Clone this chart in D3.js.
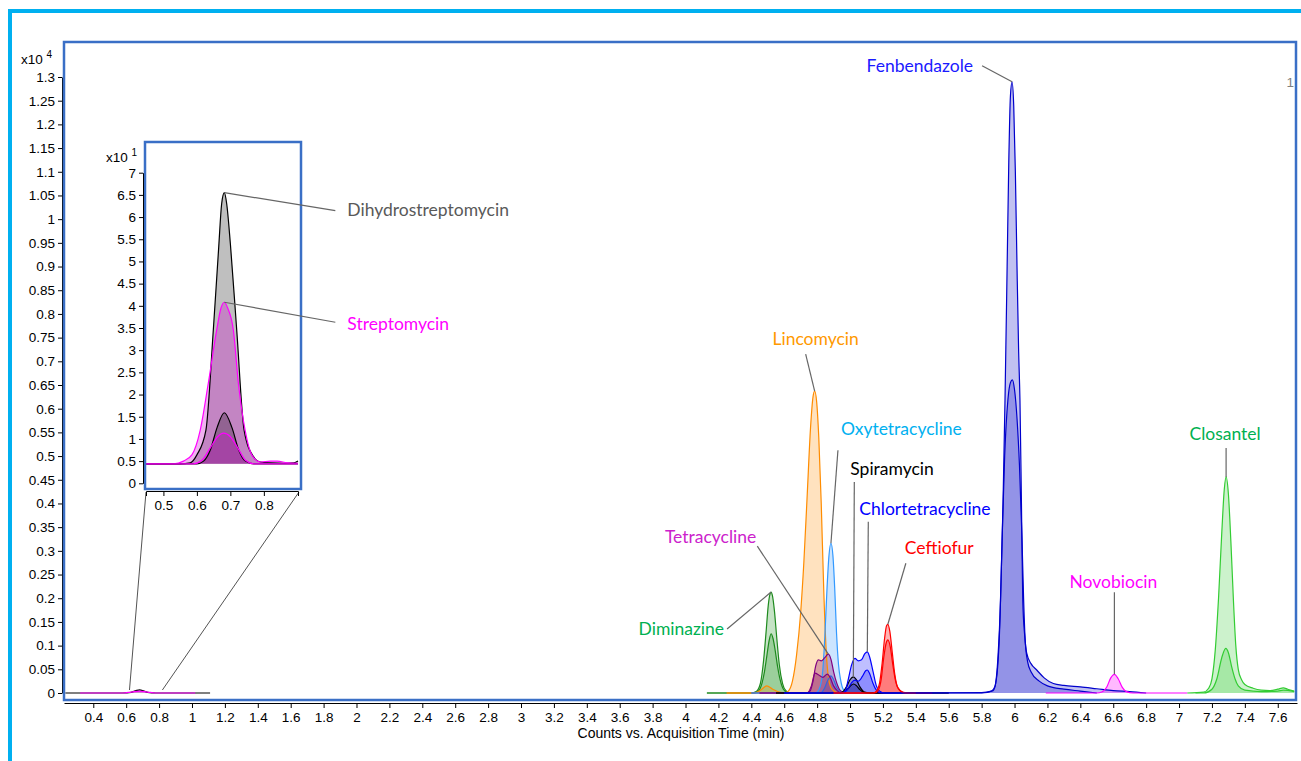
<!DOCTYPE html>
<html>
<head>
<meta charset="utf-8">
<script src="https://d3js.org/d3.v7.min.js"></script>
<style>
  body { margin: 0; background: #fff; }
  svg text { font-family: "Liberation Sans", Arial, sans-serif; }
  .tick text { font-size: 13.5px; fill: #000; }
  .lbl { font-family: Lato, "Open Sans", sans-serif; font-size: 17.5px; }
</style>
</head>
<body>
<svg width="1301" height="761"></svg>
<script>
  // axis ticks
  var xTicks = [0.4, 0.6, 0.8, 1, 1.2, 1.4, 1.6, 1.8, 2, 2.2, 2.4, 2.6, 2.8, 3, 3.2, 3.4, 3.6, 3.8, 4,
    4.2, 4.4, 4.6, 4.8, 5, 5.2, 5.4, 5.6, 5.8, 6, 6.2, 6.4, 6.6, 6.8, 7, 7.2, 7.4, 7.6];
  var yTicks = [0, 0.05, 0.1, 0.15, 0.2, 0.25, 0.3, 0.35, 0.4, 0.45, 0.5, 0.55, 0.6, 0.65, 0.7, 0.75,
    0.8, 0.85, 0.9, 0.95, 1, 1.05, 1.1, 1.15, 1.2, 1.25, 1.3];
  var insetXTicks = [0.5, 0.6, 0.7, 0.8];
  var insetYTicks = [0, 0.5, 1, 1.5, 2, 2.5, 3, 3.5, 4, 4.5, 5, 5.5, 6, 6.5, 7];

  // main chromatograms: [time (min), counts x10^4]
  var dihydroMain = [[0.23,0],[0.58,0],[0.63,0.0015],[0.66,0.005],[0.682,0.0065],[0.70,0.005],[0.73,0.0015],[0.78,0],[1.11,0]];
  var streptoMain = [[0.32,0],[0.58,0],[0.63,0.002],[0.682,0.004],[0.73,0.002],[0.78,0],[1.02,0]];
  var diminazineQuant = [[4.13,0],[4.40,0],[4.43,0.003],[4.455,0.02],[4.475,0.07],[4.49,0.13],[4.503,0.185],[4.513,0.208],[4.52,0.213],[4.528,0.206],[4.54,0.175],[4.555,0.115],[4.57,0.06],[4.59,0.02],[4.61,0.005],[4.64,0],[4.90,0]];
  var diminazineQual = [[4.13,0],[4.41,0],[4.44,0.003],[4.46,0.015],[4.48,0.045],[4.495,0.08],[4.508,0.11],[4.52,0.125],[4.532,0.115],[4.545,0.09],[4.56,0.055],[4.575,0.028],[4.595,0.008],[4.62,0.001],[4.90,0]];
  var lincomycinQuant = [[4.25,0],[4.60,0],[4.625,0.004],[4.65,0.025],[4.675,0.08],[4.70,0.17],[4.72,0.28],[4.74,0.42],[4.76,0.56],[4.775,0.625],[4.785,0.637],[4.797,0.615],[4.81,0.54],[4.825,0.4],[4.84,0.22],[4.855,0.09],[4.87,0.03],[4.89,0.008],[4.93,0],[5.10,0]];
  var lincomycinQual = [[4.25,0],[4.42,0],[4.46,0.007],[4.494,0.015],[4.53,0.008],[4.57,0.002],[4.62,0],[5.10,0]];
  var oxytetQuant = [[4.40,0],[4.79,0],[4.815,0.01],[4.835,0.05],[4.847,0.12],[4.86,0.22],[4.872,0.29],[4.884,0.316],[4.896,0.29],[4.907,0.22],[4.918,0.126],[4.93,0.06],[4.943,0.027],[4.96,0.007],[4.99,0],[5.20,0]];
  var oxytetQual = [[4.40,0],[4.82,0],[4.845,0.01],[4.865,0.027],[4.884,0.036],[4.90,0.028],[4.92,0.011],[4.945,0.002],[4.97,0],[5.20,0]];
  var tetracyclineQuant = [[4.45,0],[4.73,0],[4.757,0.004],[4.775,0.025],[4.79,0.055],[4.807,0.07],[4.825,0.068],[4.845,0.074],[4.868,0.082],[4.885,0.07],[4.90,0.045],[4.919,0.021],[4.935,0.008],[4.955,0.002],[4.98,0],[5.30,0]];
  var tetracyclineQual = [[4.45,0],[4.74,0],[4.765,0.015],[4.787,0.042],[4.81,0.038],[4.835,0.033],[4.862,0.04],[4.88,0.032],[4.90,0.015],[4.925,0.004],[4.95,0],[5.30,0]];
  var spiramycinQuant = [[4.55,0],[4.94,0],[4.96,0.004],[4.98,0.014],[5.00,0.028],[5.02,0.034],[5.04,0.027],[5.06,0.013],[5.08,0.004],[5.10,0.001],[5.12,0],[5.60,0]];
  var spiramycinQual = [[4.55,0],[4.95,0],[4.97,0.004],[4.99,0.01],[5.005,0.016],[5.022,0.019],[5.04,0.015],[5.06,0.007],[5.08,0.002],[5.10,0],[5.60,0]];
  var chlortetQuant = [[4.60,0],[4.95,0],[4.97,0.004],[4.99,0.03],[5.01,0.06],[5.03,0.073],[5.05,0.068],[5.07,0.07],[5.09,0.083],[5.105,0.087],[5.12,0.075],[5.14,0.045],[5.16,0.015],[5.18,0.004],[5.21,0],[5.50,0]];
  var chlortetQual = [[4.60,0],[4.96,0],[4.99,0.01],[5.01,0.022],[5.03,0.027],[5.05,0.025],[5.075,0.035],[5.095,0.047],[5.105,0.0485],[5.12,0.04],[5.14,0.02],[5.16,0.006],[5.19,0],[5.50,0]];
  var ceftiofurQuant = [[4.90,0],[5.14,0],[5.16,0.004],[5.18,0.022],[5.195,0.062],[5.21,0.115],[5.222,0.142],[5.23,0.145],[5.242,0.13],[5.257,0.085],[5.272,0.04],[5.29,0.012],[5.32,0.002],[5.36,0],[5.50,0]];
  var ceftiofurQual = [[4.90,0],[5.15,0],[5.17,0.005],[5.19,0.03],[5.205,0.075],[5.222,0.108],[5.23,0.112],[5.245,0.097],[5.26,0.06],[5.275,0.028],[5.295,0.008],[5.33,0],[5.50,0]];
  var fenbendazoleQuant = [[5.30,0],[5.80,0.001],[5.86,0.004],[5.88,0.013],[5.90,0.08],[5.915,0.196],[5.93,0.4],[5.942,0.618],[5.955,0.9],[5.965,1.12],[5.975,1.26],[5.985,1.29],[5.995,1.24],[6.005,1.1],[6.015,0.9],[6.025,0.72],[6.033,0.618],[6.042,0.4],[6.05,0.196],[6.062,0.12],[6.074,0.084],[6.10,0.062],[6.135,0.0485],[6.18,0.032],[6.236,0.02],[6.30,0.016],[6.40,0.013],[6.50,0.009],[6.60,0.005],[6.70,0.003],[6.80,0]];
  var fenbendazoleQual = [[5.40,0],[5.80,0],[5.87,0.005],[5.89,0.03],[5.91,0.14],[5.925,0.33],[5.94,0.5],[5.96,0.62],[5.975,0.655],[5.987,0.661],[6.00,0.64],[6.015,0.58],[6.03,0.48],[6.045,0.33],[6.055,0.2],[6.065,0.11],[6.08,0.065],[6.10,0.045],[6.15,0.025],[6.20,0.015],[6.30,0.008],[6.40,0.004],[6.50,0]];
  var novobiocinQuant = [[6.19,0],[6.50,0],[6.53,0.002],[6.56,0.012],[6.585,0.032],[6.607,0.0395],[6.63,0.03],[6.655,0.012],[6.68,0.003],[6.72,0],[7.05,0]];
  var closantelQuant = [[7.05,0],[7.15,0.002],[7.18,0.01],[7.20,0.03],[7.22,0.09],[7.24,0.2],[7.26,0.34],[7.275,0.43],[7.286,0.456],[7.30,0.42],[7.315,0.32],[7.33,0.2],[7.345,0.1],[7.36,0.05],[7.38,0.028],[7.40,0.018],[7.45,0.01],[7.50,0.006],[7.55,0.005],[7.60,0.008],[7.634,0.011],[7.66,0.008],[7.70,0.004]];
  var closantelQual = [[7.10,0],[7.15,0],[7.20,0.008],[7.23,0.03],[7.26,0.075],[7.284,0.094],[7.30,0.085],[7.32,0.055],[7.34,0.03],[7.36,0.015],[7.40,0.006],[7.50,0.003],[7.60,0.004],[7.634,0.006],[7.70,0.003]];

  // inset chromatograms: [time (min), counts x10^1]
  var dihydroQuant = [[0.448,0.44],[0.55,0.44],[0.58,0.46],[0.60,0.64],[0.627,1.2],[0.649,3.45],[0.665,5.3],[0.674,6.3],[0.682,6.55],[0.689,6.3],[0.70,5.4],[0.719,3.45],[0.741,1.2],[0.769,0.6],[0.79,0.48],[0.82,0.46],[0.86,0.45],[0.89,0.46],[0.902,0.5]];
  var dihydroQual = [[0.448,0.44],[0.60,0.44],[0.62,0.5],[0.64,0.75],[0.66,1.25],[0.682,1.59],[0.705,1.25],[0.725,0.75],[0.745,0.5],[0.77,0.44],[0.902,0.44]];
  var streptoQuant = [[0.448,0.44],[0.53,0.44],[0.56,0.5],[0.585,0.64],[0.61,1.2],[0.634,2.25],[0.659,3.45],[0.672,3.95],[0.682,4.08],[0.692,3.95],[0.709,3.45],[0.724,2.25],[0.744,1.2],[0.764,0.64],[0.79,0.48],[0.82,0.5],[0.84,0.5],[0.87,0.46],[0.902,0.45]];
  var streptoQual = [[0.448,0.44],[0.59,0.44],[0.615,0.52],[0.64,0.8],[0.662,1.05],[0.68,1.13],[0.70,1.05],[0.722,0.8],[0.745,0.52],[0.77,0.44],[0.902,0.44]];

  var mainTraces = [
    { data: dihydroMain, stroke: "#000", fill: "#000", op: 0.25 },
    { data: streptoMain, stroke: "#ff00ff", fill: "#ff00ff", op: 0.3 },
    { data: diminazineQuant, stroke: "#1e8a1e", fill: "#2e9b2e", op: 0.28 },
    { data: diminazineQual, stroke: "#1e8a1e", fill: "#2e9b2e", op: 0.28 },
    { data: lincomycinQuant, stroke: "#ff8c00", fill: "#ff8c00", op: 0.25 },
    { data: lincomycinQual, stroke: "#ff8c00", fill: "#ff8c00", op: 0.25 },
    { data: oxytetQuant, stroke: "#3399ff", fill: "#3399ff", op: 0.25 },
    { data: oxytetQual, stroke: "#3366dd", fill: "#3366dd", op: 0.25 },
    { data: tetracyclineQuant, stroke: "#800080", fill: "#800060", op: 0.3 },
    { data: tetracyclineQual, stroke: "#800080", fill: "#800060", op: 0.3 },
    { data: spiramycinQuant, stroke: "#000", fill: "#000", op: 0.25 },
    { data: spiramycinQual, stroke: "#000", fill: "#000", op: 0.25 },
    { data: chlortetQuant, stroke: "#0000ff", fill: "#0000ff", op: 0.25 },
    { data: chlortetQual, stroke: "#0000ff", fill: "#0000ff", op: 0.25 },
    { data: ceftiofurQuant, stroke: "#ff0000", fill: "#ff0000", op: 0.3 },
    { data: ceftiofurQual, stroke: "#ff0000", fill: "#ff0000", op: 0.3 },
    { data: fenbendazoleQuant, stroke: "#0000cc", fill: "#1a1acc", op: 0.27 },
    { data: fenbendazoleQual, stroke: "#0000cc", fill: "#1a1acc", op: 0.27 },
    { data: novobiocinQuant, stroke: "#ff00ff", fill: "#ff00ff", op: 0.28 },
    { data: closantelQuant, stroke: "#33cc33", fill: "#33cc33", op: 0.25 },
    { data: closantelQual, stroke: "#33cc33", fill: "#33cc33", op: 0.25 }
  ];
  var insetTraces = [
    { data: dihydroQuant, stroke: "#000", fill: "#000", op: 0.25 },
    { data: streptoQuant, stroke: "#ff00ff", fill: "#cc00cc", op: 0.3 },
    { data: dihydroQual, stroke: "#000", fill: "#000", op: 0.25 },
    { data: streptoQual, stroke: "#ff00ff", fill: "#cc00cc", op: 0.3 }
  ];

  // labels: which trace apex, text offset and leader start (px from apex)
  var mainLabels = [
    { name: "Fenbendazole", trace: fenbendazoleQuant, color: "#1a1aff", anchor: "end", tx: -39, ty: -10, lx: -30, ly: -16 },
    { name: "Lincomycin", trace: lincomycinQuant, color: "#ff9900", anchor: "middle", tx: 1, ty: -46, lx: -9, ly: -37 },
    { name: "Oxytetracycline", trace: oxytetQuant, color: "#00b0f0", anchor: "start", tx: 10, ty: -108, lx: 7, ly: -93 },
    { name: "Spiramycin", trace: spiramycinQuant, color: "#000", anchor: "start", tx: -3, ty: -202, lx: 1, ly: -195 },
    { name: "Chlortetracycline", trace: chlortetQuant, color: "#0000ff", anchor: "start", tx: -8, ty: -137, lx: 1, ly: -130 },
    { name: "Ceftiofur", trace: ceftiofurQuant, color: "#ff0000", anchor: "start", tx: 17, ty: -70, lx: 18, ly: -61 },
    { name: "Tetracycline", trace: tetracyclineQuant, color: "#cc22cc", anchor: "end", tx: -72, ty: -111, lx: -71, ly: -108 },
    { name: "Diminazine", trace: diminazineQuant, color: "#00b050", anchor: "end", tx: -47, ty: 43, lx: -44, ly: 37 },
    { name: "Novobiocin", trace: novobiocinQuant, color: "#ff00ff", anchor: "middle", tx: -1, ty: -86, lx: 0, ly: -82 },
    { name: "Closantel", trace: closantelQuant, color: "#00b050", anchor: "middle", tx: -1, ty: -37, lx: 0, ly: -29 }
  ];
  var insetLabels = [
    { name: "Dihydrostreptomycin", trace: dihydroQuant, color: "#595959", anchor: "start", tx: 123, ty: 23, lx: 111, ly: 18 },
    { name: "Streptomycin", trace: streptoQuant, color: "#ff00ff", anchor: "start", tx: 123, ty: 28, lx: 111, ly: 20 }
  ];
  var zoomRange = [0.62, 0.82];

  var svg = d3.select("svg");

  // outer cyan frame
  svg.append("rect").attr("x", 10).attr("y", 11).attr("width", 1320).attr("height", 800)
    .attr("fill", "none").attr("stroke", "#00b0f0").attr("stroke-width", 4);

  var x = d3.scaleLinear().domain([0.222, 7.717]).range([64, 1297]);
  var y = d3.scaleLinear().domain([0, 1.3]).range([693, 77]);

  svg.append("clipPath").attr("id", "plotclip").append("rect")
    .attr("x", 65).attr("y", 43).attr("width", 1231).attr("height", 656);

  var plot = svg.append("g").attr("clip-path", "url(#plotclip)");

  var area = d3.area().x(function(d) { return x(d[0]); }).y0(y(0)).y1(function(d) { return y(d[1]); })
    .curve(d3.curveMonotoneX);
  var line = d3.line().x(function(d) { return x(d[0]); }).y(function(d) { return y(d[1]); })
    .curve(d3.curveMonotoneX);

  plot.selectAll("path.fill").data(mainTraces).enter().append("path")
    .attr("class", "fill").attr("d", function(d) { return area(d.data); })
    .attr("fill", function(d) { return d.fill; }).attr("fill-opacity", function(d) { return d.op; });
  plot.selectAll("path.trace").data(mainTraces).enter().append("path")
    .attr("class", "trace").attr("d", function(d) { return line(d.data); })
    .attr("fill", "none").attr("stroke", function(d) { return d.stroke; }).attr("stroke-width", 1.2);

  // axes
  svg.append("g").attr("transform", "translate(0,703)")
    .call(d3.axisBottom(x).tickValues(xTicks).tickSize(5).tickSizeOuter(0).tickPadding(4).tickFormat(String))
    .call(function(g) { g.selectAll("line,path").attr("stroke", "#000"); });
  svg.append("g").attr("transform", "translate(62,0)")
    .call(d3.axisLeft(y).tickValues(yTicks).tickSize(4).tickSizeOuter(0).tickPadding(3).tickFormat(String))
    .call(function(g) { g.selectAll("line,path").attr("stroke", "#000"); });

  svg.append("text").attr("x", 681).attr("y", 738).attr("text-anchor", "middle")
    .attr("font-size", 14).text("Counts vs. Acquisition Time (min)");
  var sc = svg.append("text").attr("x", 21).attr("y", 64).attr("font-size", 13.5);
  sc.append("tspan").text("x10 ");
  sc.append("tspan").attr("dy", -6).attr("font-size", 10).text("4");
  svg.append("text").attr("x", 1294).attr("y", 87).attr("text-anchor", "end")
    .attr("font-size", 13.5).attr("fill", "#808080").text("1");

  // plot frame
  svg.append("rect").attr("x", 64).attr("y", 42).attr("width", 1232).attr("height", 658)
    .attr("fill", "none").attr("stroke", "#3a6fc6").attr("stroke-width", 2.5);

  function drawLabels(list, xs, ys) {
    list.forEach(function(a) {
      var top = d3.greatest(a.trace, function(d) { return d[1]; });
      var px = xs(top[0]), py = ys(top[1]);
      svg.append("line").attr("x1", px + a.lx).attr("y1", py + a.ly).attr("x2", px).attr("y2", py)
        .attr("stroke", "#666").attr("stroke-width", 1.2);
      svg.append("text").attr("class", "lbl").attr("x", px + a.tx).attr("y", py + a.ty)
        .attr("text-anchor", a.anchor).attr("fill", a.color).text(a.name);
    });
  }
  drawLabels(mainLabels, x, y);

  // inset
  var xi = d3.scaleLinear().domain([0.448, 0.902]).range([146, 298]);
  var yi = d3.scaleLinear().domain([0, 7]).range([483.3, 172.7]);

  svg.append("line").attr("x1", x(zoomRange[0])).attr("y1", 690).attr("x2", 146).attr("y2", 492)
    .attr("stroke", "#404040").attr("stroke-width", 0.9);
  svg.append("line").attr("x1", x(zoomRange[1])).attr("y1", 690).attr("x2", 299).attr("y2", 492)
    .attr("stroke", "#404040").attr("stroke-width", 0.9);

  svg.append("rect").attr("x", 145).attr("y", 142).attr("width", 156).attr("height", 347).attr("fill", "#fff");
  svg.append("clipPath").attr("id", "insetclip").append("rect")
    .attr("x", 146).attr("y", 143).attr("width", 154).attr("height", 345);
  var inset = svg.append("g").attr("clip-path", "url(#insetclip)");
  var areaI = d3.area().x(function(d) { return xi(d[0]); }).y0(function(d) { return yi(0.44); })
    .y1(function(d) { return yi(d[1]); }).curve(d3.curveMonotoneX);
  var lineI = d3.line().x(function(d) { return xi(d[0]); }).y(function(d) { return yi(d[1]); })
    .curve(d3.curveMonotoneX);
  inset.selectAll("path.fill").data(insetTraces).enter().append("path")
    .attr("class", "fill").attr("d", function(d) { return areaI(d.data); })
    .attr("fill", function(d) { return d.fill; }).attr("fill-opacity", function(d) { return d.op; });
  inset.selectAll("path.trace").data(insetTraces).enter().append("path")
    .attr("class", "trace").attr("d", function(d) { return lineI(d.data); })
    .attr("fill", "none").attr("stroke", function(d) { return d.stroke; }).attr("stroke-width", 1.2);

  svg.append("rect").attr("x", 145).attr("y", 142).attr("width", 156).attr("height", 347)
    .attr("fill", "none").attr("stroke", "#3a6fc6").attr("stroke-width", 2.5);

  svg.append("g").attr("transform", "translate(0,491)")
    .call(d3.axisBottom(xi).tickValues(insetXTicks).tickSize(5).tickSizeOuter(5).tickPadding(4).tickFormat(String))
    .call(function(g) { g.selectAll("line,path").attr("stroke", "#000"); });
  svg.append("g").attr("transform", "translate(143,0)")
    .call(d3.axisLeft(yi).tickValues(insetYTicks).tickSize(4).tickSizeOuter(0).tickPadding(3).tickFormat(String))
    .call(function(g) { g.selectAll("line,path").attr("stroke", "#000"); });
  var sci = svg.append("text").attr("x", 106).attr("y", 162).attr("font-size", 13.5);
  sci.append("tspan").text("x10 ");
  sci.append("tspan").attr("dy", -6).attr("font-size", 10).text("1");

  drawLabels(insetLabels, xi, yi);
</script>
</body>
</html>
